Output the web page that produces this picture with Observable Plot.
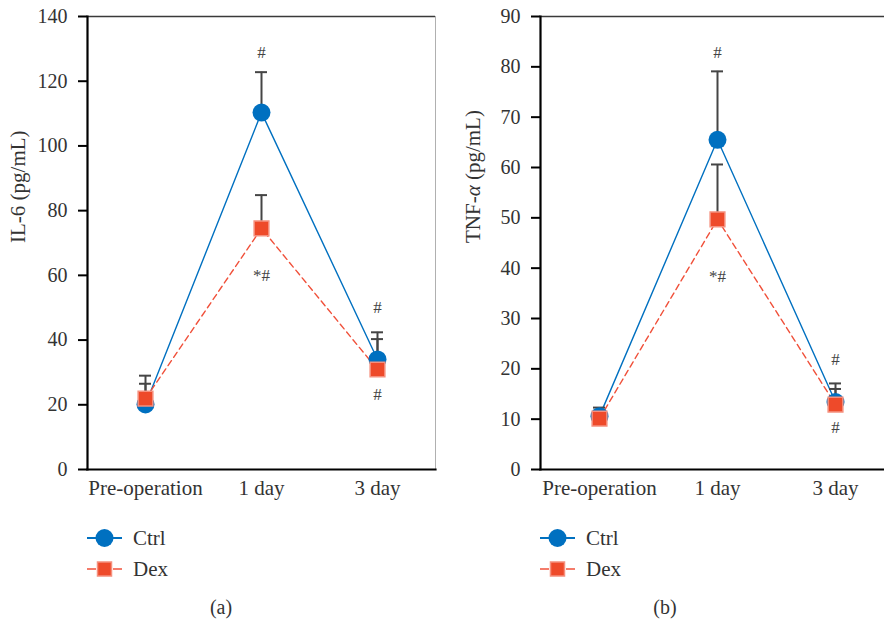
<!DOCTYPE html>
<html><head><meta charset="utf-8">
<script src="https://cdn.jsdelivr.net/npm/d3@7"></script>
<script src="https://cdn.jsdelivr.net/npm/@observablehq/plot@0.6"></script>
<style>
body{margin:0;background:#fff;font-family:"Liberation Serif","DejaVu Serif",serif;color:#333}
svg, svg text{font-family:"Liberation Serif","DejaVu Serif",serif !important}
#wrap{position:relative;width:884px;height:625px;overflow:hidden;background:#fff}
.panel{position:absolute;top:0;height:625px}
.row{display:flex;align-items:center;height:20px;position:absolute;white-space:nowrap;font-size:21px;line-height:20px}
.row span{margin-left:10px}
.cap{position:absolute;top:597px;font-size:20px;line-height:20px;transform:translateX(-50%)}
</style></head><body><div id="wrap"></div>
<script>
const categories = ["Pre-operation", "1 day", "3 day"];
const groups = ["Ctrl", "Dex"];
const il6Ctrl = [20.1, 110.3, 34.0];
const il6CtrlSD = [8.9, 12.5, 8.4];
const il6Dex = [21.9, 74.5, 30.9];
const il6DexSD = [4.6, 10.3, 9.4];
const tnfCtrl = [10.6, 65.5, 13.4];
const tnfCtrlSD = [1.7, 13.6, 3.7];
const tnfDex = [10.1, 49.7, 12.9];
const tnfDexSD = [1.2, 10.9, 3.1];
const il6Ticks = [0, 20, 40, 60, 80, 100, 120, 140];
const tnfTicks = [0, 10, 20, 30, 40, 50, 60, 70, 80, 90];
const noteCats = ["1 day", "1 day", "3 day", "3 day"];
const noteLabels = ["#", "*#", "#", "#"];
const il6NoteY = [129, 60, 50, 23.2];
const tnfNoteY = [82.9, 38.4, 21.8, 8.4];

const BLUE = "#0070C0", RED = "#EE4A2A", REDEDGE = "#F5907E", BAR = "#454545";
const FONT = "'Liberation Serif', 'DejaVu Serif', serif";

function makePanel(o) {
  const rows = categories.flatMap((c, i) => [
    {cat: c, group: "Ctrl", v: o.ctrl[i], hi: o.ctrl[i] + o.ctrlSD[i]},
    {cat: c, group: "Dex", v: o.dex[i], hi: o.dex[i] + o.dexSD[i]}
  ]);
  const ctrlRows = rows.filter(d => d.group === "Ctrl");
  const dexRows = rows.filter(d => d.group === "Dex");
  const notes = noteCats.map((c, i) => ({cat: c, y: o.noteY[i], label: noteLabels[i]}));
  const ymax = o.ticks[o.ticks.length - 1];
  const svg = Plot.plot({
    width: o.width, height: 505,
    marginTop: 16, marginBottom: 36, marginLeft: o.marginLeft, marginRight: o.marginRight,
    style: {fontFamily: FONT, fontSize: "20px", color: "#333", background: "white"},
    x: {type: "point", domain: categories, padding: 0.5},
    y: {domain: [0, ymax]},
    marks: [
      Plot.frame({stroke: "#b0b0b0", strokeWidth: 1}),
      Plot.ruleY([ymax], {stroke: "#3a3a3a", strokeWidth: 1.5}),
      Plot.line(ctrlRows, {x: "cat", y: "v", stroke: BLUE, strokeWidth: 1.4}),
      Plot.line(dexRows, {x: "cat", y: "v", stroke: "#F0503A", strokeWidth: 1.4, strokeDasharray: "6,4"}),
      Plot.ruleX(rows, {x: "cat", y1: "v", y2: "hi", stroke: BAR, strokeWidth: 2}),
      Plot.ruleY(rows, {x1: "cat", x2: "cat", y: "hi", stroke: BAR, strokeWidth: 2, insetLeft: -6, insetRight: -6}),
      Plot.dot(ctrlRows, {x: "cat", y: "v", r: 9, fill: BLUE, symbol: "circle"}),
      Plot.dot(dexRows, {x: "cat", y: "v", r: 8.3, symbol: "square", fill: RED, stroke: REDEDGE, strokeWidth: 1.5}),
      Plot.text(notes, {x: "cat", y: "y", text: "label", fontSize: 17, fill: "#444"}),
      Plot.text([o.label], {frameAnchor: "left", dx: -o.labelOffset, rotate: -90, text: d => d, fontSize: 21, fill: "#333"}),
      Plot.axisY({ticks: o.ticks, tickSize: 9, tickPadding: 11, stroke: "black", strokeWidth: 2, fill: "#333", fontSize: 20, label: null}),
      Plot.axisX({tickSize: 0, tickPadding: 11, fill: "#333", fontSize: 21, label: null}),
      Plot.frame({anchor: "left", stroke: "black", strokeWidth: 2.2}),
      Plot.frame({anchor: "bottom", stroke: "black", strokeWidth: 2.2})
    ]
  });
  svg.querySelectorAll("text").forEach(t => {
    if (t.textContent === o.label && o.label.includes("α")) {
      const parts = o.label.split("α");
      t.textContent = "";
      const ns = "http://www.w3.org/2000/svg";
      const a = document.createElementNS(ns, "tspan"); a.textContent = parts[0];
      const b = document.createElementNS(ns, "tspan"); b.textContent = "α"; b.setAttribute("font-style", "italic");
      const c = document.createElementNS(ns, "tspan"); c.textContent = parts[1];
      t.append(a, b, c);
    }
  });
  const div = document.createElement("div");
  div.className = "panel";
  div.style.left = o.left + "px";
  div.style.width = o.width + "px";
  div.appendChild(svg);
  const legend = [
    {name: groups[0], sw: `<line x1="0" x2="35" y1="10" y2="10" stroke="${BLUE}" stroke-width="2"/><circle cx="17.5" cy="10" r="9" fill="${BLUE}"/>`},
    {name: groups[1], sw: `<line x1="0" x2="9" y1="10" y2="10" stroke="#F0503A" stroke-width="1.5"/><line x1="26" x2="35" y1="10" y2="10" stroke="#F0503A" stroke-width="1.5"/><rect x="10.5" y="3" width="14" height="14" fill="${RED}" stroke="${REDEDGE}" stroke-width="1.5"/>`}
  ];
  legend.forEach((l, i) => {
    const r = document.createElement("div");
    r.className = "row";
    r.style.left = o.marginLeft + "px";
    r.style.top = (528 + i * 31) + "px";
    r.innerHTML = `<svg width="36" height="20">${l.sw}</svg><span>${l.name}</span>`;
    div.appendChild(r);
  });
  const cap = document.createElement("div");
  cap.className = "cap";
  cap.style.left = o.capX + "px";
  cap.textContent = o.caption;
  div.appendChild(cap);
  document.getElementById("wrap").appendChild(div);
}

makePanel({ctrl: il6Ctrl, ctrlSD: il6CtrlSD, dex: il6Dex, dexSD: il6DexSD, ticks: il6Ticks, noteY: il6NoteY,
  label: "IL-6 (pg/mL)", labelOffset: 69, width: 440, marginLeft: 87, marginRight: 5, left: 0, capX: 221, caption: "(a)"});
makePanel({ctrl: tnfCtrl, ctrlSD: tnfCtrlSD, dex: tnfDex, dexSD: tnfDexSD, ticks: tnfTicks, noteY: tnfNoteY,
  label: "TNF-α (pg/mL)", labelOffset: 67, width: 460, marginLeft: 100, marginRight: 6, left: 440, capX: 225, caption: "(b)"});
</script></body></html>
